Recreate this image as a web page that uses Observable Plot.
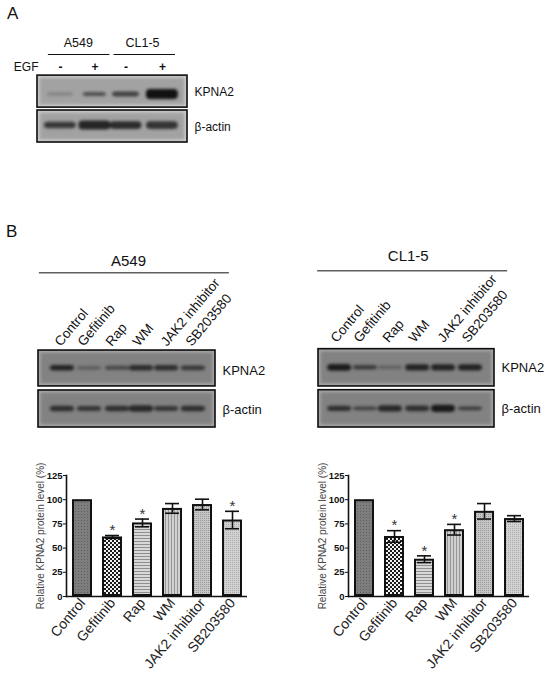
<!DOCTYPE html>
<html><head><meta charset="utf-8">
<script src="https://cdn.jsdelivr.net/npm/d3@7"></script>
<script src="https://cdn.jsdelivr.net/npm/@observablehq/plot@0.6"></script>
<style>
html,body{margin:0;padding:0;background:#fff}
#page{position:relative;width:550px;height:679px;overflow:hidden;font-family:"Liberation Sans",Arial,sans-serif}
#page>svg{position:absolute;overflow:visible}
.letter{position:absolute;font-size:17px;color:#111;line-height:20px}
</style></head><body><div id="page"></div>
<script>
// ---------- data ----------
const treatments = ["Control","Gefitinib","Rap","WM","JAK2 inhibitor","SB203580"];
const a549Means = [100,61.5,76,91,95,79];
const a549Errors = [0,1.5,4,5,5.5,9];
const a549Stars = [false,true,true,false,false,true];
const cl15Means = [100,62,38.5,69,88,80.5];
const cl15Errors = [0,6,3.5,5.5,8,3];
const cl15Stars = [false,true,true,true,false,false];
const yTicks = [0,25,50,75,100,125];
const yLabel = "Relative KPNA2 protein level (%)";

// panel A blot (lane units)
const aLaneCenters = [0.61,1.53,2.36,3.33];
const aLaneWidths = [0.7,0.62,0.72,0.85];
const aKpna2Dark = [0.22,0.55,0.65,0.95];
const aKpna2Thick = [0.09,0.13,0.15,0.32];
const aActinDark = [0.7,0.82,0.78,0.72];
const aActinThick = [0.2,0.28,0.24,0.24];
const aSigns = ["-","+","-","+"];

// panel B blots
const bLeftCenters = [0.81,1.73,2.68,3.49,4.34,5.25];
const bLeftLabelX = [0.64,1.42,2.37,3.29,4.24,5.08];
const bLeftKpna2Dark = [0.8,0.35,0.5,0.72,0.7,0.62];
const bLeftKpna2Thick = [0.15,0.09,0.11,0.15,0.15,0.13];
const bLeftActinDark = [0.7,0.65,0.7,0.75,0.65,0.7];
const bLeftActinThick = [0.15,0.13,0.15,0.17,0.13,0.15];

const bRightCenters = [0.72,1.6,2.45,3.38,4.26,5.18];
const bRightLabelX = [0.51,1.29,2.28,3.17,4.16,4.98];
const bRightKpna2Dark = [0.85,0.6,0.32,0.8,0.8,0.8];
const bRightKpna2Thick = [0.18,0.12,0.08,0.17,0.17,0.17];
const bRightActinDark = [0.7,0.55,0.75,0.7,0.88,0.6];
const bRightActinThick = [0.14,0.1,0.17,0.15,0.19,0.1];

const fontFamily = '"Liberation Sans",Arial,sans-serif';
const page = document.getElementById("page");

function place(svg,left,top){svg.style.left=left+"px";svg.style.top=top+"px";page.appendChild(svg);}
function letter(t,left,top){const d=document.createElement("div");d.className="letter";d.textContent=t;d.style.left=left+"px";d.style.top=top+"px";page.appendChild(d);}

// ---------- blot helper ----------
function blotMarks(n,rows,bg,edge,labelSize){
  const marks=[];
  marks.push(Plot.rect(rows,{x1:0,x2:n,y1:"y1",y2:"y2",fill:edge}));
  marks.push(Plot.rect(rows,{x1:0,x2:n,y1:"y1",y2:"y2",fill:bg,inset:2.5,imageFilter:"blur(1.5px)"}));
  rows.forEach(r=>{
    const bands=r.centers.map((c,i)=>({c,w:r.widths[i],d:r.dark[i],t:r.thick[i]}));
    marks.push(Plot.rect(bands,{
      x1:d=>d.c-d.w/2,x2:d=>d.c+d.w/2,
      y1:d=>r.mid-d.t/2,y2:d=>r.mid+d.t/2,
      fill:"#0a0a0a",fillOpacity:d=>d.d,rx:4,imageFilter:"blur(1.6px)"
    }));
  });
  marks.push(Plot.rect(rows,{x1:0,x2:n,y1:"y1",y2:"y2",fill:"none",stroke:"#0c0c0c",strokeWidth:1.6}));
  marks.push(Plot.text(rows,{x:n,y:"labelY",text:"label",textAnchor:"start",dx:7,fontSize:labelSize,fill:"#111"}));
  return marks;
}

// ---------- panel A ----------
{
  const rows=[
    {label:"KPNA2",y1:1.09,y2:2.09,mid:1.5,labelY:1.57,centers:aLaneCenters,widths:aLaneWidths,dark:aKpna2Dark,thick:aKpna2Thick},
    {label:"β-actin",y1:0,y2:1,mid:0.53,labelY:0.48,centers:aLaneCenters,widths:aLaneWidths.map(()=>0.85),dark:aActinDark,thick:aActinThick}
  ];
  place(Plot.plot({
    width:270,height:112,marginTop:0,marginBottom:0,marginLeft:37,marginRight:83,
    x:{domain:[0,4],axis:null},y:{domain:[0,3.5],axis:null},
    style:{fontFamily,background:"transparent"},
    marks:[
      ...blotMarks(4,rows,"#a2a2a2","#cdcdcd",12),
      Plot.text(aSigns,{x:aLaneCenters,y:()=>2.37,text:d=>d,fontSize:12,fontWeight:"bold",fill:"#111"}),
      Plot.text(["EGF"],{x:[0],y:[2.37],text:d=>d,textAnchor:"end",dx:1,fontSize:12,fill:"#111"}),
      Plot.ruleY([2.75],{x1:0.29,x2:1.93,stroke:"#111",strokeWidth:1}),
      Plot.ruleY([2.75],{x1:2.04,x2:3.68,stroke:"#111",strokeWidth:1}),
      Plot.text(["A549"],{x:[1.09],y:[3.1],text:d=>d,fontSize:12.5,fill:"#111"}),
      Plot.text(["CL1-5"],{x:[2.8],y:[3.1],text:d=>d,fontSize:12.5,fill:"#111"})
    ]
  }),0,30);
}

// ---------- panel B blots ----------
function blotPanel(title,centers,labelX,kD,kT,aD,aT,opts){
  const w=centers.map(()=>0.82);
  const rows=[
    {label:"KPNA2",y1:opts.k[0],y2:opts.k[1],mid:opts.kMid,labelY:opts.kLab,centers,widths:w,dark:kD,thick:kT},
    {label:"β-actin",y1:0,y2:1,mid:0.5,labelY:0.49,centers,widths:w,dark:aD,thick:aT}
  ];
  return Plot.plot({
    width:opts.width,height:182,marginTop:0,marginBottom:0,marginLeft:opts.ml,marginRight:opts.mr,
    x:{domain:[0,6],axis:null},y:{domain:[0,182/opts.unit],axis:null},
    style:{fontFamily,background:"transparent"},
    marks:[
      ...blotMarks(6,rows,"#828282","#a8a8a8",13),
      Plot.text(treatments,{x:labelX,y:()=>opts.labY,text:d=>d,rotate:-50,textAnchor:"start",fontSize:13.5,fill:"#111"}),
      Plot.ruleY([opts.lineY],{x1:opts.line[0],x2:opts.line[1],stroke:"#111",strokeWidth:1}),
      Plot.text([title],{x:[opts.titleX],y:[opts.titleY],text:d=>d,fontSize:15,fill:"#111"})
    ]
  });
}
place(blotPanel("A549",bLeftCenters,bLeftLabelX,bLeftKpna2Dark,bLeftKpna2Thick,bLeftActinDark,bLeftActinThick,
  {width:270,ml:38,mr:55,unit:37,k:[1.11,2.08],kMid:1.6,kLab:1.52,labY:2.25,lineY:4.18,line:[0.03,6.47],titleX:3.05,titleY:4.5}),0,245);
place(blotPanel("CL1-5",bRightCenters,bRightLabelX,bRightKpna2Dark,bRightKpna2Thick,bRightActinDark,bRightActinThick,
  {width:270,ml:38,mr:56,unit:37.3,k:[1.1,2.1],kMid:1.6,kLab:1.59,labY:2.33,lineY:4.2,line:[-0.03,6.45],titleX:3.06,titleY:4.58}),280,245);

// ---------- bar charts ----------
function patterns(prefix){
  return ()=>{
    const defs=d3.create("svg:defs");
    const add=(i,w,h,bg,draw)=>{
      const p=defs.append("pattern").attr("id",prefix+i).attr("patternUnits","userSpaceOnUse").attr("width",w).attr("height",h);
      p.append("rect").attr("width",w).attr("height",h).attr("fill",bg);
      draw(p);
    };
    const r=(p,x,y,w,h,f)=>p.append("rect").attr("x",x).attr("y",y).attr("width",w).attr("height",h).attr("fill",f);
    add(0,3,3,"#7d7d7d",p=>r(p,0,0,1,1,"#5f5f5f"));
    add(1,4,4,"#f2f2f2",p=>{r(p,0,0,2,2,"#1a1a1a");r(p,2,2,2,2,"#1a1a1a");});
    add(2,4,3,"#d8d8d8",p=>r(p,0,0,4,1,"#8f8f8f"));
    add(3,3,4,"#d0d0d0",p=>r(p,0,0,1,4,"#969696"));
    add(4,2,2,"#c6c6c6",p=>r(p,0,0,1,1,"#9a9a9a"));
    add(5,2,2,"#d2d2d2",p=>r(p,0,0,1,1,"#ababab"));
    return defs.node();
  };
}
function barChart(prefix,means,errors,stars,ml,width,labelOffset){
  const data=treatments.map((t,i)=>({t,i,m:means[i],e:errors[i],s:stars[i]}));
  const capped=data.filter(d=>d.e>0);
  return Plot.plot({
    width,height:219,marginTop:15,marginBottom:83,marginLeft:ml,marginRight:width-ml-181,
    x:{domain:treatments,paddingInner:1/3,paddingOuter:0.17,label:null},
    y:{domain:[0,125],label:null},
    color:{type:"identity"},
    style:{fontFamily,background:"transparent"},
    marks:[
      patterns(prefix),
      Plot.barY(data,{x:"t",y:"m",fill:d=>`url(#${prefix}${d.i})`,stroke:"#111",strokeWidth:2,inset:1}),
      Plot.ruleX(capped,{x:"t",y1:d=>d.m-d.e,y2:d=>d.m+d.e,stroke:"#111",strokeWidth:1.6}),
      Plot.tickY(capped,{x:"t",y:d=>d.m+d.e,stroke:"#111",strokeWidth:1.6,insetLeft:3,insetRight:3}),
      Plot.tickY(capped,{x:"t",y:d=>d.m-d.e,stroke:"#111",strokeWidth:1.6,insetLeft:3,insetRight:3}),
      Plot.text(data.filter(d=>d.s),{x:"t",y:d=>d.m+d.e,text:()=>"*",dy:-5,fontSize:15,fill:"#333"}),
      Plot.ruleY([0],{stroke:"#111",strokeWidth:1.6}),
      Plot.frame({anchor:"left",stroke:"#111",strokeWidth:1.6}),
      Plot.axisY({ticks:yTicks,tickSize:3,tickPadding:1,fontSize:9.5,fontWeight:"bold",fill:"#111",stroke:"#111",label:null}),
      Plot.axisX({tickRotate:-50,tickSize:0,tickPadding:4,fontSize:14,fill:"#222",label:null}),
      Plot.text([yLabel],{frameAnchor:"left",textAnchor:"middle",dx:-labelOffset,rotate:-90,fontSize:10,fill:"#444"})
    ]
  });
}
place(barChart("l",a549Means,a549Errors,a549Stars,66,270,26),0,460);
place(barChart("r",cl15Means,cl15Errors,cl15Stars,48,250,26),300,460);

letter("A",7,4);
letter("B",6,222);
</script></body></html>
